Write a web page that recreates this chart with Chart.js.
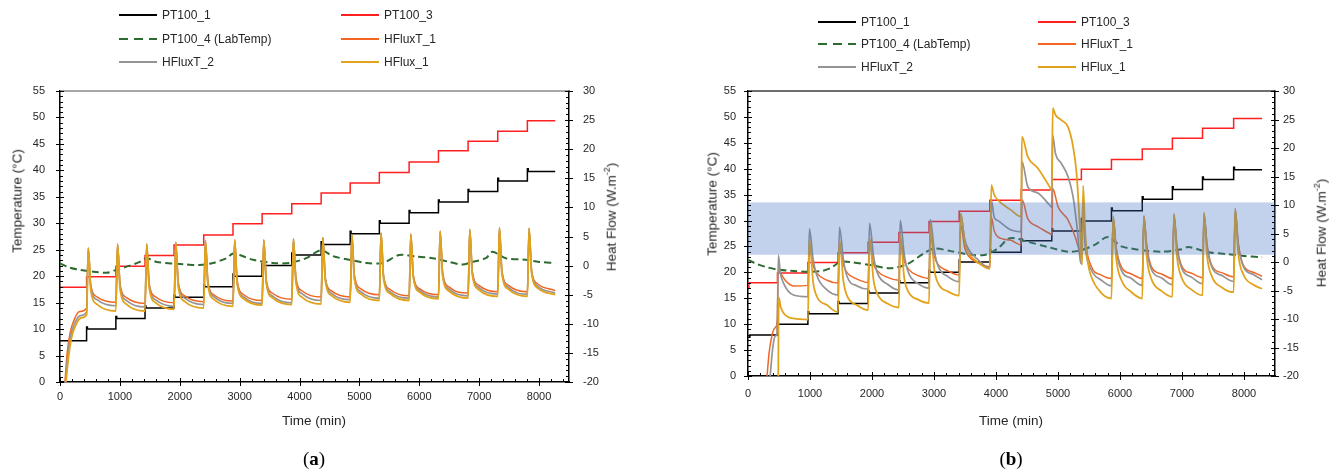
<!DOCTYPE html>
<html>
<head>
<meta charset="utf-8">
<title>PT100 and heat flux records</title>
<script src="https://cdn.jsdelivr.net/npm/chart.js@4.4.1/dist/chart.umd.min.js"></script>
<style>
  html, body { margin: 0; padding: 0; background: #fff; }
  body { position: relative; width: 1338px; height: 475px; overflow: hidden;
         font-family: "Liberation Sans", Arial, sans-serif; color: #262626; }
  canvas { position: absolute; top: 0; }
  #chartA { left: 0; }
  #chartB { left: 669px; }
  .lg { position: absolute; font-size: 12px; line-height: 14px; white-space: nowrap; }
  .lgline { position: absolute; }
  .ttl { position: absolute; font-size: 13.5px; white-space: nowrap; transform: translate(-50%, -50%); }
  .ttl.rot { transform: translate(-50%, -50%) rotate(-90deg); }
  .cap { position: absolute; font-family: "Liberation Serif", "DejaVu Serif", serif; font-size: 19px;
         color: #000; transform: translate(-50%, -50%); white-space: nowrap; }
</style>
</head>
<body>
<canvas id="chartA" width="669" height="475"></canvas>
<canvas id="chartB" width="669" height="475"></canvas>

<div class="ttl rot" style="left:17px; top:201px">Temperature (°C)</div>
<div class="ttl rot" style="left:610px; top:217px">Heat Flow (W.m<sup style="font-size:9px">-2</sup>)</div>
<div class="ttl" style="left:314px; top:420px">Time (min)</div>
<div class="cap" style="left:314px; top:459px">(<b>a</b>)</div>

<div class="ttl rot" style="left:712px; top:204px">Temperature (°C)</div>
<div class="ttl rot" style="left:1320px; top:233px">Heat Flow (W.m<sup style="font-size:9px">-2</sup>)</div>
<div class="ttl" style="left:1011px; top:420px">Time (min)</div>
<div class="cap" style="left:1011px; top:459px">(<b>b</b>)</div>

<script>
// ---- series names / colours ----
const seriesNames = ['PT100_1', 'PT100_3', 'PT100_4 (LabTemp)', 'HFluxT_1', 'HFluxT_2', 'HFlux_1'];
const seriesColors = ['#000000', '#ff1f1f', '#2e6b30', '#f26522', '#949494', '#e2a31c'];

// ---- axis ticks ----
const timeTicks = [0, 1000, 2000, 3000, 4000, 5000, 6000, 7000, 8000];
const tempTicks = [0, 5, 10, 15, 20, 25, 30, 35, 40, 45, 50, 55];
const flowTicks = [-20, -15, -10, -5, 0, 5, 10, 15, 20, 25, 30];

// ---- (a) temperatures, °C ----
const pt100_1_a = [[0,7.8],[444,10.4],[458,10.0],[933,12.4],[947,12.0],[1420,14.4],[1434,14.0],[1905,16.4],[1919,16.0],
  [2400,18.4],[2414,18.0],[2889,20.4],[2903,20.0],[3375,22.4],[3389,22.0],[3870,24.4],[3884,24.0],[4361,26.5],[4375,26.0],
  [4846,28.5],[4860,28.0],[5333,30.5],[5347,30.0],[5830,32.4],[5844,32.0],[6320,34.4],[6334,34.0],[6815,36.4],[6829,36.0],
  [7310,38.5],[7324,38.0],[7805,40.3],[7819,39.8],[8270,39.8]];
const pt100_3_a = [[0,17.9],[444,19.9],[933,21.9],[1420,23.9],[1905,25.9],[2400,27.8],[2889,29.9],[3375,31.8],[3870,33.7],
  [4361,35.7],[4846,37.6],[5333,39.6],[5830,41.6],[6320,43.7],[6815,45.5],[7310,47.4],[7805,49.4],[8270,49.4]];
const pt100_4_a = [[0,22.4],[140,21.7],[278,21.3],[556,20.85],[778,20.65],[944,21.2],[1111,21.8],[1333,22.7],[1444,23.4],
  [1611,22.7],[1889,22.4],[2111,22.2],[2333,22.1],[2556,22.5],[2778,23.4],[2889,24.3],[3000,24.0],[3222,23.1],[3556,22.5],
  [3833,22.5],[4111,23.4],[4361,24.9],[4556,23.8],[4833,23.1],[5111,22.5],[5389,22.5],[5667,24.0],[5944,23.7],[6222,23.4],
  [6500,22.7],[6722,22.2],[6889,22.7],[7111,23.4],[7222,24.6],[7444,23.4],[7778,23.1],[8000,22.7],[8270,22.5]];

// ---- (a) heat flux sensors, W/m2 ----
const hfluxT1_a = [[80,-20.5],[120,-15],[170,-11.5],[240,-9.2],[330,-7.9],[444,-7.3],
  [472,2.9],[514,-3.3],[624,-5.4],[933,-6.3],
  [961,3.6],[1003,-3.2],[1113,-5.5],[1420,-6.5],
  [1448,3.6],[1490,-3.1],[1600,-5.4],[1905,-6.4],
  [1933,3.9],[1975,-2.9],[2085,-5.2],[2400,-6.2],
  [2428,4.2],[2470,-2.7],[2580,-5.1],[2889,-6.1],
  [2917,4.3],[2959,-2.6],[3069,-5.0],[3375,-6.0],
  [3403,4.3],[3445,-2.5],[3555,-4.8],[3870,-5.8],
  [3898,4.5],[3940,-2.1],[4050,-4.4],[4361,-5.4],
  [4389,4.7],[4431,-2.1],[4541,-4.4],[4846,-5.4],
  [4874,5.2],[4916,-1.6],[5026,-4.0],[5333,-5.0],
  [5361,5.5],[5403,-1.7],[5513,-4.1],[5830,-5.2],
  [5858,5.3],[5900,-1.6],[6010,-4.0],[6320,-5.0],
  [6348,5.8],[6390,-1.2],[6500,-3.7],[6815,-4.7],
  [6843,6.1],[6885,-1.0],[6995,-3.4],[7310,-4.5],
  [7338,6.4],[7380,-0.9],[7490,-3.4],[7805,-4.5],
  [7833,6.3],[7875,-0.8],[7985,-3.2],[8270,-4.3]];
const hfluxT2_a = [[85,-20.5],[130,-15.5],[180,-12],[250,-9.8],[340,-8.6],[444,-8.0],
  [472,3.0],[514,-3.6],[624,-5.9],[933,-6.9],
  [961,3.7],[1003,-3.5],[1113,-6.0],[1420,-7.1],
  [1448,3.7],[1490,-3.5],[1600,-5.9],[1905,-7.0],
  [1933,4.0],[1975,-3.2],[2085,-5.6],[2400,-6.7],
  [2428,4.3],[2470,-2.9],[2580,-5.4],[2889,-6.5],
  [2917,4.4],[2959,-2.9],[3069,-5.4],[3375,-6.5],
  [3403,4.4],[3445,-2.8],[3555,-5.3],[3870,-6.4],
  [3898,4.6],[3940,-2.5],[4050,-4.9],[4361,-6.0],
  [4389,4.8],[4431,-2.3],[4541,-4.8],[4846,-5.85],
  [4874,5.3],[4916,-2.0],[5026,-4.5],[5333,-5.6],
  [5361,5.6],[5403,-1.9],[5513,-4.5],[5830,-5.6],
  [5858,5.4],[5900,-1.8],[6010,-4.3],[6320,-5.4],
  [6348,5.9],[6390,-1.5],[6500,-4.1],[6815,-5.2],
  [6843,6.2],[6885,-1.2],[6995,-3.8],[7310,-4.9],
  [7338,6.5],[7380,-1.1],[7490,-3.8],[7805,-4.9],
  [7833,6.4],[7875,-1.0],[7985,-3.6],[8270,-4.7]];
const hflux1_a = [[95,-20.5],[140,-16],[190,-12.5],[260,-10.3],[350,-9.0],[444,-8.5],
  [472,3.0],[514,-4.2],[624,-6.7],[933,-7.8],
  [961,3.7],[1003,-4.0],[1113,-6.65],[1420,-7.8],
  [1448,3.7],[1490,-3.8],[1600,-6.4],[1905,-7.5],
  [1933,4.0],[1975,-3.6],[2085,-6.2],[2400,-7.3],
  [2428,4.3],[2470,-3.3],[2580,-5.9],[2889,-7.0],
  [2917,4.4],[2959,-3.1],[3069,-5.7],[3375,-6.8],
  [3403,4.4],[3445,-3.0],[3555,-5.6],[3870,-6.7],
  [3898,4.6],[3940,-2.9],[4050,-5.5],[4361,-6.6],
  [4389,4.8],[4431,-2.6],[4541,-5.2],[4846,-6.3],
  [4874,5.3],[4916,-2.3],[5026,-4.9],[5333,-6.0],
  [5361,5.6],[5403,-2.2],[5513,-4.8],[5830,-6.0],
  [5858,5.4],[5900,-2.0],[6010,-4.6],[6320,-5.7],
  [6348,5.9],[6390,-1.8],[6500,-4.4],[6815,-5.6],
  [6843,6.2],[6885,-1.5],[6995,-4.15],[7310,-5.3],
  [7338,6.5],[7380,-1.4],[7490,-4.1],[7805,-5.3],
  [7833,6.4],[7875,-1.2],[7985,-3.9],[8270,-5.0]];

// ---- (b) temperatures, °C ----
const pt100_1_b = [[0,7.5],[30,7.9],[475,10.4],[489,10.0],[966,12.4],[980,12.0],[1452,14.4],[1466,14.0],[1938,16.4],[1952,16.0],
  [2434,18.4],[2448,18.0],[2920,20.4],[2934,20.0],[3406,22.4],[3420,22.0],[3900,24.4],[3914,23.9],[4405,26.5],[4419,26.1],
  [4900,28.4],[4914,28.0],[5377,30.4],[5391,29.9],[5862,32.4],[5876,31.9],[6359,34.6],[6373,34.1],[6845,36.5],[6859,36.0],
  [7331,38.4],[7345,37.9],[7833,40.3],[7847,39.8],[8291,39.8]];
const pt100_3_b = [[0,17.0],[15,18.0],[475,19.9],[966,21.9],[1452,23.8],[1938,25.8],[2434,27.7],[2920,29.8],[3406,31.8],
  [3900,33.9],[4405,35.9],[4900,37.9],[5377,39.9],[5862,41.8],[6359,43.8],[6845,45.9],[7331,47.8],[7833,49.7],[8291,49.7]];
const pt100_4_b = [[0,22.4],[150,21.6],[302,21.0],[500,20.5],[680,20.3],[1004,20.1],[1200,20.3],[1328,20.8],[1490,22.0],
  [1652,22.0],[1976,21.4],[2300,20.8],[2570,21.6],[2840,23.7],[3001,24.6],[3271,24.1],[3541,23.5],[3810,23.35],[4027,24.6],
  [4190,26.4],[4297,26.6],[4513,25.9],[4837,24.9],[5161,24.0],[5377,24.3],[5592,25.3],[5800,26.8],[6024,25.0],[6186,24.6],
  [6348,24.3],[6672,24.0],[6996,24.45],[7100,24.9],[7428,23.9],[7752,23.5],[7968,23.2],[8291,22.9]];

// ---- (b) heat flux sensors, W/m2 ----
const hfluxT1_b = [[300,-21],[340,-16],[383,-13.1],[430,-11.6],[470,-10.7],
  [490,-1.2],[530,-2.0],[600,-3.2],[730,-4.2],[966,-4.1],
  [990,2.5],[1050,-0.6],[1112,-2.0],[1274,-3.2],[1452,-3.7],
  [1475,3.0],[1540,-0.5],[1600,-1.9],[1760,-3.0],[1938,-3.6],
  [1960,3.5],[2025,-0.3],[2090,-1.6],[2250,-2.7],[2434,-3.2],
  [2455,4.0],[2520,0.2],[2585,-1.2],[2745,-2.4],[2920,-2.9],
  [2940,5.0],[3005,1.0],[3070,-0.5],[3230,-1.6],[3406,-2.3],
  [3430,6.5],[3495,2.5],[3560,1.0],[3720,-0.2],[3900,-0.8],
  [3925,7.9],[3970,5.5],[4030,4.4],[4243,3.8],[4405,3.0],
  [4420,10.9],[4513,7.6],[4675,6.2],[4864,5.0],[4900,4.8],
  [4915,12.9],[5000,9.7],[5161,7.4],[5296,3.8],[5361,0.9],[5380,-0.3],
  [5400,11.0],[5440,4.0],[5538,-0.8],[5700,-2.3],[5862,-2.9],
  [5890,7.6],[5940,2.5],[6024,-0.9],[6186,-2.1],[6359,-2.9],
  [6385,7.7],[6435,2.6],[6510,-0.9],[6672,-2.1],[6845,-2.9],
  [6870,8.0],[6920,2.8],[7000,-0.8],[7160,-2.0],[7331,-2.75],
  [7355,8.2],[7405,3.0],[7485,-0.7],[7650,-1.9],[7833,-2.6],
  [7858,8.8],[7908,3.3],[7990,-0.6],[8150,-1.8],[8291,-2.5]];
const hfluxT2_b = [[350,-21],[400,-15],[440,-13],[470,-12.5],
  [490,1.2],[520,-1.8],[572,-3.7],[734,-5.8],[966,-6.1],
  [990,5.8],[1050,0.5],[1112,-2.4],[1274,-4.9],[1452,-5.8],
  [1475,6.1],[1540,0.3],[1600,-2.6],[1760,-4.2],[1938,-4.75],
  [1960,6.8],[2025,1.0],[2090,-2.0],[2250,-3.9],[2434,-4.9],
  [2455,7.3],[2520,1.3],[2585,-1.8],[2745,-3.8],[2920,-4.6],
  [2940,7.45],[3005,2.0],[3070,-0.8],[3230,-2.6],[3406,-3.45],
  [3430,8.5],[3495,4.0],[3560,2.2],[3720,0.3],[3900,-1.1],
  [3925,10.9],[3970,7.9],[4027,7.3],[4243,5.6],[4405,5.3],
  [4420,17.6],[4513,13.2],[4675,12.1],[4864,10.0],[4900,9.6],
  [4912,22.3],[4960,19.0],[5053,17.3],[5161,15.0],[5242,11.5],[5312,5.6],[5361,0.1],[5380,-0.3],
  [5400,9.0],[5440,2.5],[5538,-1.4],[5700,-3.2],[5862,-4.2],
  [5890,8.0],[5940,2.0],[6024,-1.5],[6186,-2.9],[6359,-4.1],
  [6385,8.1],[6435,2.0],[6510,-1.4],[6672,-2.8],[6845,-4.0],
  [6870,8.4],[6920,2.3],[7000,-1.2],[7160,-2.7],[7331,-3.8],
  [7355,8.6],[7405,2.6],[7485,-1.0],[7650,-2.4],[7833,-3.4],
  [7858,9.3],[7908,3.0],[7990,-0.8],[8150,-2.2],[8291,-3.1]];
const hflux1_b = [[488,-21],[496,-6.2],[530,-8.0],[599,-9.3],[734,-9.9],[966,-10.1],
  [990,4.1],[1050,-3.5],[1112,-6.1],[1274,-7.55],[1452,-8.8],
  [1475,3.9],[1540,-3.5],[1600,-6.0],[1760,-7.6],[1938,-8.45],
  [1960,4.4],[2025,-3.2],[2090,-5.7],[2250,-7.3],[2434,-8.0],
  [2455,4.8],[2520,-2.8],[2585,-5.2],[2745,-6.6],[2920,-7.2],
  [2940,6.6],[3005,-1.3],[3070,-3.8],[3230,-5.2],[3406,-5.9],
  [3430,8.5],[3495,3.5],[3560,1.6],[3720,-0.2],[3900,-1.2],
  [3925,13.5],[3970,11.8],[4027,10.9],[4243,9.1],[4405,7.95],
  [4418,22.0],[4513,18.45],[4675,16.45],[4864,13.2],[4900,12.5],
  [4915,27.0],[4960,25.8],[5053,24.9],[5161,23.7],[5242,20.3],[5300,15.5],[5340,8.5],[5370,2.0],[5388,-0.5],
  [5405,13.4],[5440,5.0],[5480,0.0],[5538,-2.6],[5700,-5.45],[5862,-6.4],
  [5890,8.0],[5940,0.5],[6024,-3.2],[6186,-5.3],[6359,-6.4],
  [6385,8.0],[6435,0.5],[6510,-3.1],[6672,-5.1],[6845,-6.1],
  [6870,8.4],[6920,0.8],[7000,-2.9],[7160,-4.9],[7331,-5.85],
  [7355,8.6],[7405,1.0],[7485,-2.6],[7650,-4.5],[7833,-5.3],
  [7858,9.4],[7908,1.4],[7990,-2.2],[8150,-4.0],[8291,-4.7]];

// shaded temperature range on (b), °C
const bandB = [23.4, 33.5];

// ---------------------------------------------------------------

// tick marks, top edge and the optional band
const framePlugin = {
  id: 'frame',
  afterDatasetsDraw(chart, args, opts) {
    if (!opts.band) return;
    const {ctx, chartArea: ca, scales} = chart;
    const yTop = scales.y.getPixelForValue(opts.band[1]);
    const yBot = scales.y.getPixelForValue(opts.band[0]);
    ctx.save();
    ctx.fillStyle = 'rgba(68, 114, 196, 0.32)';
    ctx.fillRect(ca.left, yTop, ca.right - ca.left, yBot - yTop);
    ctx.restore();
  },
  afterDraw(chart, args, opts) {
    const {ctx, chartArea: ca, scales} = chart;
    ctx.save();
    // top edge
    ctx.strokeStyle = opts.topColor;
    ctx.lineWidth = 1.5;
    ctx.beginPath();
    ctx.moveTo(ca.left, ca.top);
    ctx.lineTo(ca.right, ca.top);
    ctx.stroke();

    ctx.strokeStyle = '#000';
    ctx.lineWidth = 1;
    ctx.beginPath();
    // time axis: major every 1000, minor every 200
    for (let v = 0; v < 8500; v += 200) {
      const px = Math.round(scales.x.getPixelForValue(v)) + 0.5;
      const major = v % 1000 === 0;
      ctx.moveTo(px, ca.bottom + (major ? 4 : 0));
      ctx.lineTo(px, ca.bottom - (major ? 4 : 3));
    }
    // temperature axis
    for (let v = 0; v <= 55; v++) {
      const py = Math.round(scales.y.getPixelForValue(v)) + 0.5;
      const major = v % 5 === 0;
      ctx.moveTo(ca.left - (major ? 4 : 0), py);
      ctx.lineTo(ca.left + (major ? 4 : 3), py);
    }
    // heat flow axis
    for (let v = -20; v <= 30; v++) {
      const py = Math.round(scales.y1.getPixelForValue(v)) + 0.5;
      const major = v % 5 === 0;
      ctx.moveTo(ca.right + (major ? 4 : 0), py);
      ctx.lineTo(ca.right - (major ? 4 : 3), py);
    }
    ctx.stroke();
    ctx.restore();
  }
};

const tickFont = { family: '"Liberation Sans", Arial, sans-serif', size: 11 };
const plainNumber = v => String(v);

function line(i, data, axis, extra) {
  return Object.assign({
    label: seriesNames[i],
    data: data,
    yAxisID: axis,
    borderColor: seriesColors[i],
    backgroundColor: seriesColors[i],
    borderWidth: 1.5,
    pointRadius: 0,
    fill: false,
    order: 6 - i
  }, extra);
}

function makeChart(id, d, g) {
  const smooth = { cubicInterpolationMode: 'monotone' };
  return new Chart(document.getElementById(id), {
    type: 'line',
    data: {
      datasets: [
        line(0, d.pt1, 'y', { stepped: 'before' }),
        line(1, d.pt3, 'y', { stepped: 'before' }),
        line(2, d.pt4, 'y', { borderWidth: 2, borderDash: [7, 4], tension: 0.3 }),
        line(3, d.ht1, 'y1', smooth),
        line(4, d.ht2, 'y1', Object.assign({ borderWidth: 1.7 }, smooth)),
        line(5, d.hf1, 'y1', Object.assign({ borderWidth: 1.8 }, smooth))
      ]
    },
    options: {
      responsive: false,
      animation: false,
      events: [],
      layout: { padding: { top: g.top, left: 0, right: 0, bottom: 0 } },
      plugins: {
        legend: { display: false },
        tooltip: { enabled: false },
        frame: { band: g.band, topColor: g.topColor }
      },
      scales: {
        x: {
          type: 'linear', min: 0, max: 8500,
          grid: { display: false, drawTicks: false },
          border: { display: true, color: '#000', width: 1.5 },
          ticks: { font: tickFont, color: '#262626', padding: g.xPad, maxRotation: 0, autoSkip: false, callback: plainNumber },
          afterBuildTicks: s => { s.ticks = timeTicks.map(v => ({ value: v })); },
          afterFit: s => { s.height = g.xHeight; }
        },
        y: {
          type: 'linear', position: 'left', min: 0, max: 55,
          grid: { display: false, drawTicks: false },
          border: { display: true, color: '#000', width: 1.5 },
          ticks: { font: tickFont, color: '#262626', padding: g.yPad, callback: plainNumber },
          afterBuildTicks: s => { s.ticks = tempTicks.map(v => ({ value: v })); },
          afterFit: s => { s.width = g.left; }
        },
        y1: {
          type: 'linear', position: 'right', min: -20, max: 30,
          grid: { display: false, drawTicks: false },
          border: { display: true, color: '#000', width: 1.5 },
          ticks: { font: tickFont, color: '#262626', padding: g.y1Pad, callback: plainNumber },
          afterBuildTicks: s => { s.ticks = flowTicks.map(v => ({ value: v })); },
          afterFit: s => { s.width = g.right; }
        }
      }
    },
    plugins: [framePlugin]
  });
}

// legend: two columns, three rows
function buildLegend(cols, rows, lineLen, gap) {
  seriesNames.forEach((name, i) => {
    const x = cols[i % 2];
    const y = rows[Math.floor(i / 2)];
    const svg = document.createElementNS('http://www.w3.org/2000/svg', 'svg');
    svg.setAttribute('class', 'lgline');
    svg.setAttribute('width', lineLen);
    svg.setAttribute('height', 6);
    svg.style.left = x + 'px';
    svg.style.top = (y - 3) + 'px';
    const ln = document.createElementNS('http://www.w3.org/2000/svg', 'line');
    ln.setAttribute('x1', 0); ln.setAttribute('x2', lineLen);
    ln.setAttribute('y1', 3); ln.setAttribute('y2', 3);
    ln.setAttribute('stroke', seriesColors[i]);
    ln.setAttribute('stroke-width', 2);
    if (i === 2) ln.setAttribute('stroke-dasharray', '9,6');
    svg.appendChild(ln);
    document.body.appendChild(svg);

    const t = document.createElement('div');
    t.className = 'lg';
    t.textContent = name;
    t.style.left = (x + lineLen + gap) + 'px';
    t.style.top = (y - 7) + 'px';
    document.body.appendChild(t);
  });
}

makeChart('chartA',
  { pt1: pt100_1_a, pt3: pt100_3_a, pt4: pt100_4_a, ht1: hfluxT1_a, ht2: hfluxT2_a, hf1: hflux1_a },
  { top: 91, left: 60, right: 100, xHeight: 93, xPad: 8, yPad: 15, y1Pad: 14, topColor: '#8a8a8a', band: null });

makeChart('chartB',
  { pt1: pt100_1_b, pt3: pt100_3_b, pt4: pt100_4_b, ht1: hfluxT1_b, ht2: hfluxT2_b, hf1: hflux1_b },
  { top: 91, left: 79, right: 63, xHeight: 99, xPad: 11, yPad: 12, y1Pad: 8, topColor: '#3c3c3c', band: bandB });

buildLegend([119, 341], [15, 39, 62], 38, 5);
buildLegend([818, 1038], [22, 44, 67], 38, 5);
</script>
</body>
</html>
